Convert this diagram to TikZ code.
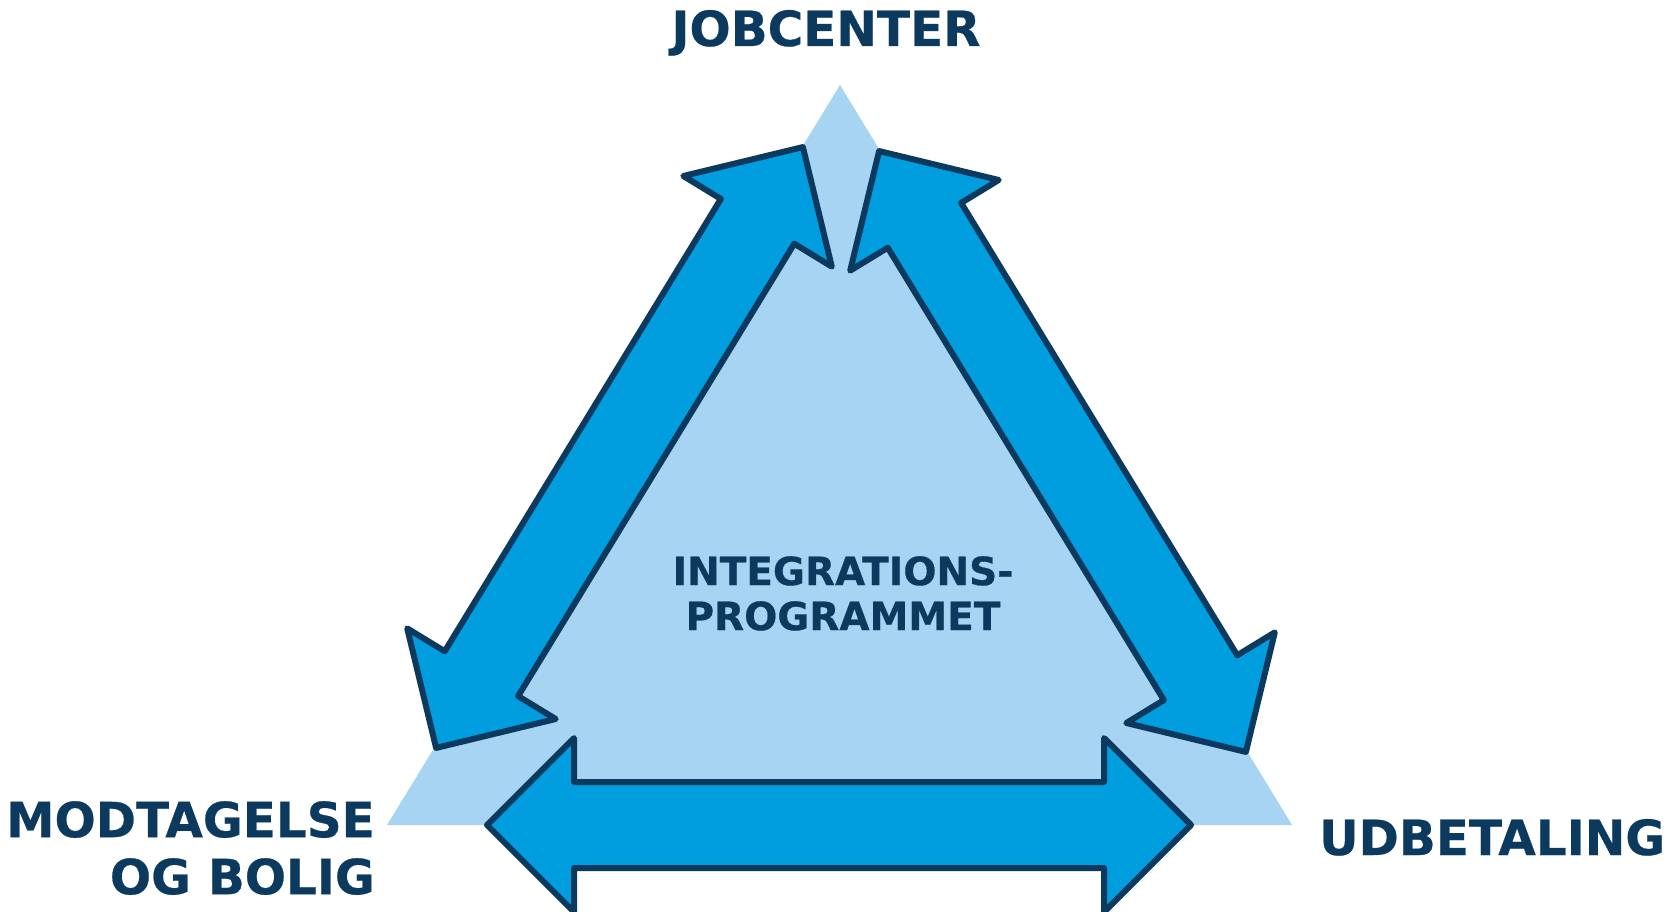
\documentclass[tikz,border=0pt]{standalone}
\usepackage{fontspec}
\setmainfont{DejaVu Sans}[BoldFeatures={FakeBold=0.5}]
\definecolor{navy}{RGB}{12,57,94}
\definecolor{arrowblue}{RGB}{0,157,223}
\definecolor{paleblue}{RGB}{168,212,244}

\begin{document}
\begin{tikzpicture}[
        x=1pt,
        y=-1pt,
        area/.style={
            fill=paleblue,
        },
        band/.style={
            fill=arrowblue,
            draw=navy,
            line width=6pt,
            line join=round,
        },
        label-side/.style={
            text=navy,
            font=\fontsize{48.5}{57}\selectfont\bfseries,
            inner sep=0pt,
        },
        label-mid/.style={
            text=navy,
            font=\fontsize{39}{45}\selectfont\bfseries,
            inner sep=0pt,
            align=center,
        },
    ]
    \useasboundingbox (0,0) rectangle (1676,912);
    \clip (0,0) rectangle (1676,912);

    % Corners of the triangle.
    \coordinate (top) at (840,85);
    \coordinate (left) at (387,825);
    \coordinate (right) at (1292,825);

    % Background triangle.
    \fill[area] (top) -- (left) -- (right) -- cycle;

    % Double arrows along the sides.
    \foreach \cx/\cy/\ang in {839/825/0, 619.5/447.5/58.6, 1062.5/451.5/-58.6}
    \draw[band, shift={(\cx,\cy)}, rotate=\ang]
        (-352,0) -- (-265,-87) -- (-265,-43) -- (265,-43) -- (265,-87)
        -- (352,0) -- (265,87) -- (265,43) -- (-265,43) -- (-265,87) -- cycle;

    % Labels.
    \node[label-side, anchor=base] (jobcenter) at (826,46) {JOBCENTER};
    \node[label-side, align=right, anchor=north east] (modtagelse) at (375,801) {MODTAGELSE\\OG BOLIG};
    \node[label-side, anchor=base west] (udbetaling) at (1319,855) {UDBETALING};
    \node[label-mid, anchor=north] (program) at (843,556) {INTEGRATIONS-\\PROGRAMMET};
\end{tikzpicture}
\end{document}
